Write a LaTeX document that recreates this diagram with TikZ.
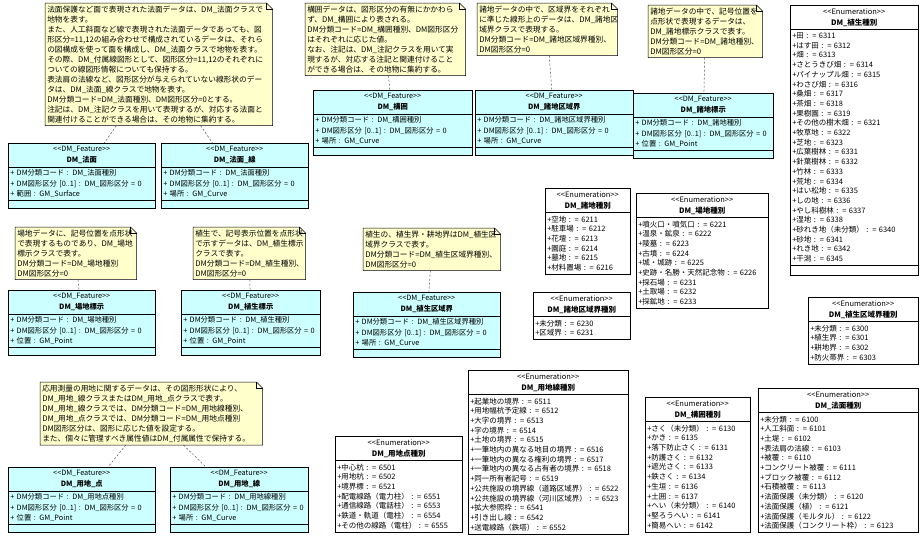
\documentclass[tikz,border=0pt]{standalone}
\usepackage{fontspec}
\setmainfont{Noto Sans CJK JP}
\usetikzlibrary{shapes.multipart}

\definecolor{notefill}{HTML}{FFFFCC}
\definecolor{classfill}{HTML}{CCFFFF}

% outline of a note with its folded corner
\newcommand{\notefold}[1]{%
  \draw (#1.south west) -- (#1.north west) -- ([xshift=-6pt]#1.north east)
    -- ([yshift=-6pt]#1.north east) -- (#1.south east) -- cycle;
  \draw ([xshift=-6pt]#1.north east) |- ([yshift=-6pt]#1.north east);}
% stereotype and name, centred
\newcommand{\classhead}[2]{\makebox[\linewidth]{<{}<#1>{}>}\\[1pt]\makebox[\linewidth]{\textbf{#2}}}

\begin{document}
\begin{tikzpicture}[x=1pt,y=-1pt,line width=0.5pt,
  umlnote/.style={anchor=north west,fill=notefill,inner xsep=2pt,inner ysep=2.5pt,
    align=left,text width=#1,font=\fontsize{7.7}{10}\selectfont,
    path picture={\fill[white] ([xshift=-6pt]path picture bounding box.north east)
      -- (path picture bounding box.north east)
      -- ([yshift=-6pt]path picture bounding box.north east) -- cycle;}},
  umlclass/.style={rectangle split,rectangle split parts=3,draw,fill=classfill,
    anchor=north west,inner xsep=2pt,inner ysep=2.5pt,align=left,text width=#1,
    font=\fontsize{7.3}{10.5}\selectfont},
  umlenum/.style={rectangle split,rectangle split parts=2,draw,fill=white,
    anchor=north west,inner xsep=2pt,inner ysep=3pt,align=left,text width=#1,
    font=\fontsize{7.5}{9.7}\selectfont},
  annot/.style={dash pattern=on 2pt off 2pt,gray!60!black}]
\useasboundingbox (0,0) rectangle (922,538);

% notes
\node[umlnote=223pt] (note1) at (45,3) {法面保護など面で表現された法面データは、DM\_法面クラスで\\
地物を表す。\\
また、人工斜面など線で表現された法面データであっても、図\\
形区分=11,12の組み合わせで構成されているデータは、それら\\
の図構成を使って面を構成し、DM\_法面クラスで地物を表す。\\
その際、DM\_付属線図形として、図形区分=11,12のそれぞれに\\
ついての線図形情報についても保持する。\\
表法肩の法線など、図形区分が与えられていない線形状のデー\\
タは、DM\_法面\_線クラスで地物を表す。\\
DM分類コード=DM\_法面種別、DM図形区分=0とする。\\
注記は、DM\_注記クラスを用いて表現するが、対応する法面と\\
関連付けることができる場合は、その地物に集約する。};
\notefold{note1}
\node[umlnote=156pt] (note2) at (305,3) {構囲データは、図形区分の有無にかかわら\\
ず、DM\_構囲により表される。\\
DM分類コード=DM\_構囲種別、DM図形区分\\
はそれぞれに応じた値。\\
なお、注記は、DM\_注記クラスを用いて実\\
現するが、対応する注記と関連付けること\\
ができる場合は、その地物に集約する。};
\notefold{note2}
\node[umlnote=136pt] (note3) at (477,3) {諸地データの中で、区域界をそれぞれ\\
に準じた線形上のデータは、DM\_諸地区\\
域界クラスで表現する。\\
DM分類コード=DM\_諸地区域界種別、\\
DM図形区分=0};
\notefold{note3}
\node[umlnote=110pt] (note4) at (648,5) {諸地データの中で、記号位置を\\
点形状で表現するデータは、\\
DM\_諸地標示クラスで表す。\\
DM分類コード=DM\_諸地種別、\\
DM図形区分=0};
\notefold{note4}
\node[umlnote=117pt] (note5) at (15,227) {場地データに、記号位置を点形状\\
で表現するものであり、DM\_場地\\
標示クラスで表す。\\
DM分類コード=DM\_場地種別\\
DM図形区分=0};
\notefold{note5}
\node[umlnote=108pt] (note6) at (193,227) {植生で、記号表示位置を点形状\\
で示すデータは、DM\_植生標示\\
クラスで表す。\\
DM分類コード=DM\_植生種別、\\
DM図形区分=0};
\notefold{note6}
\node[umlnote=133pt] (note7) at (363,228) {植生の、植生界・耕地界はDM\_植生区\\
域界クラスで表す。\\
DM分類コード=DM\_植生区域界種別、\\
DM図形区分=0};
\notefold{note7}
\node[umlnote=218pt] (note8) at (40,382) {応用測量の用地に関するデータは、その図形形状により、\\
DM\_用地\_線クラスまたはDM\_用地\_点クラスで表す。\\
DM\_用地\_線クラスでは、DM分類コード=DM\_用地線種別、\\
DM\_用地\_点クラスでは、DM分類コード=DM\_用地点種別\\
DM図形区分は、図形に応じた値を設定する。\\
また、個々に管理すべき属性値はDM\_付属属性で保持する。};
\notefold{note8}

% feature classes
\node[umlclass=143pt] (houmen) at (8,143) {\classhead{DM\_Feature}{DM\_法面}
  \nodepart{two}+ DM分類コード : DM\_法面種別\\\mbox{+ DM図形区分 [0..1] : DM\_図形区分 = 0}\\+ 範囲 : GM\_Surface
  \nodepart{three}\rule{0pt}{2pt}};
\node[umlclass=143pt] (houmensen) at (161,143) {\classhead{DM\_Feature}{DM\_法面\_線}
  \nodepart{two}+ DM分類コード : DM\_法面種別\\\mbox{+ DM図形区分 [0..1] : DM\_図形区分 = 0}\\+ 場所 : GM\_Curve
  \nodepart{three}\rule{0pt}{2pt}};
\node[umlclass=155pt] (koui) at (313,90) {\classhead{DM\_Feature}{DM\_構囲}
  \nodepart{two}+ DM分類コード : DM\_構囲種別\\\mbox{+ DM図形区分 [0..1] : DM\_図形区分 = 0}\\+ 場所 : GM\_Curve
  \nodepart{three}\rule{0pt}{2pt}};
\node[umlclass=154pt] (shochikuiki) at (475,90) {\classhead{DM\_Feature}{DM\_諸地区域界}
  \nodepart{two}+ DM分類コード : DM\_諸地区域界種別\\\mbox{+ DM図形区分 [0..1] : DM\_図形区分 = 0}\\+ 場所 : GM\_Curve
  \nodepart{three}\rule{0pt}{2pt}};
\node[umlclass=136pt] (shochihyouji) at (633,93) {\classhead{DM\_Feature}{DM\_諸地標示}
  \nodepart{two}+ DM分類コード : DM\_諸地種別\\\mbox{+ DM図形区分 [0..1] : DM\_図形区分 = 0}\\+ 位置 : GM\_Point
  \nodepart{three}\rule{0pt}{2pt}};
\node[umlclass=143pt] (jouchihyouji) at (8,290) {\classhead{DM\_Feature}{DM\_場地標示}
  \nodepart{two}+ DM分類コード : DM\_場地種別\\\mbox{+ DM図形区分 [0..1] : DM\_図形区分 = 0}\\+ 位置 : GM\_Point
  \nodepart{three}\rule{0pt}{2pt}};
\node[umlclass=135pt] (shokuhyouji) at (181,290) {\classhead{DM\_Feature}{DM\_植生標示}
  \nodepart{two}+ DM分類コード : DM\_植生種別\\\mbox{+ DM図形区分 [0..1] : DM\_図形区分 = 0}\\+ 位置 : GM\_Point
  \nodepart{three}\rule{0pt}{2pt}};
\node[umlclass=143pt] (shokukuiki) at (353,292) {\classhead{DM\_Feature}{DM\_植生区域界}
  \nodepart{two}+ DM分類コード : DM\_植生区域界種別\\\mbox{+ DM図形区分 [0..1] : DM\_図形区分 = 0}\\+ 場所 : GM\_Curve
  \nodepart{three}\rule{0pt}{2pt}};
\node[umlclass=143pt] (youchiten) at (8,467) {\classhead{DM\_Feature}{DM\_用地\_点}
  \nodepart{two}+ DM分類コード : DM\_用地点種別\\\mbox{+ DM図形区分 [0..1] : DM\_図形区分 = 0}\\+ 位置 : GM\_Point
  \nodepart{three}\rule{0pt}{2pt}};
\node[umlclass=134pt] (youchisen) at (170,467) {\classhead{DM\_Feature}{DM\_用地\_線}
  \nodepart{two}+ DM分類コード : DM\_用地線種別\\\mbox{+ DM図形区分 [0..1] : DM\_図形区分 = 0}\\+ 場所 : GM\_Curve
  \nodepart{three}\rule{0pt}{2pt}};

% enumerations
\node[umlenum=124pt,rectangle split parts=3] (eshokusei) at (790,5) {\classhead{Enumeration}{DM\_植生種別}
  \nodepart{two}+田 : = 6311\\+はす田 : = 6312\\+畑 : = 6313\\+さとうきび畑 : = 6314\\+パイナップル畑 : = 6315\\
  +わさび畑 : = 6316\\+桑畑 : = 6317\\+茶畑 : = 6318\\+果樹園 : = 6319\\+その他の樹木畑 : = 6321\\
  +牧草地 : = 6322\\+芝地 : = 6323\\+広葉樹林 : = 6331\\+針葉樹林 : = 6332\\+竹林 : = 6333\\
  +荒地 : = 6334\\+はい松地 : = 6335\\+しの地 : = 6336\\+やし科樹林 : = 6337\\+湿地 : = 6338\\
  +砂れき地（未分類） : = 6340\\+砂地 : = 6341\\+れき地 : = 6342\\+干潟 : = 6345
  \nodepart{three}\rule{0pt}{3pt}};
\node[umlenum=81pt] (eshochi) at (545,188) {\classhead{Enumeration}{DM\_諸地種別}
  \nodepart{two}+空地 : = 6211\\+駐車場 : = 6212\\+花壇 : = 6213\\+園庭 : = 6214\\+墓地 : = 6215\\+材料置場 : = 6216};
\node[umlenum=93pt] (eshochikuiki) at (533,292) {\classhead{Enumeration}{DM\_諸地区域界種別}
  \nodepart{two}+未分類 : = 6230\\+区域界 : = 6231};
\node[umlenum=128pt] (ejouchi) at (636,193) {\classhead{Enumeration}{DM\_場地種別}
  \nodepart{two}+噴火口・噴気口 : = 6221\\+温泉・鉱泉 : = 6222\\+陵墓 : = 6223\\+古墳 : = 6224\\+城・城跡 : = 6225\\
  +史跡・名勝・天然記念物 : = 6226\\+採石場 : = 6231\\+土取場 : = 6232\\+採鉱地 : = 6233};
\node[umlenum=106pt] (eshokukuiki) at (808,297) {\classhead{Enumeration}{DM\_植生区域界種別}
  \nodepart{two}+未分類 : = 6300\\+植生界 : = 6301\\+耕地界 : = 6302\\+防火帯界 : = 6303};
\node[umlenum=123pt] (eyouchiten) at (335,436) {\classhead{Enumeration}{DM\_用地点種別}
  \nodepart{two}+中心杭 : = 6501\\+用地杭 : = 6502\\+境界標 : = 6521\\+配電線路（電力柱） : = 6551\\
  +通信線路（電話柱） : = 6553\\+鉄道・軌道（電柱） : = 6554\\+その他の線路（電柱） : = 6555};
\node[umlenum=156pt] (eyouchisen) at (468,370) {\classhead{Enumeration}{DM\_用地線種別}
  \nodepart{two}+起業地の境界 : = 6511\\+用地幅杭予定線 : = 6512\\+大字の境界 : = 6513\\+字の境界 : = 6514\\
  +土地の境界 : = 6515\\+一筆地内の異なる地目の境界 : = 6516\\+一筆地内の異なる権利の境界 : = 6517\\
  +一筆地内の異なる占有者の境界 : = 6518\\+同一所有者記号 : = 6519\\
  \mbox{+公共施設の境界線（道路区域界） : = 6522}\\\mbox{+公共施設の境界線（河川区域界） : = 6523}\\
  +拡大参照枠 : = 6541\\+引き出し線 : = 6542\\+送電線路（鉄塔） : = 6552};
\node[umlenum=101pt] (ekoui) at (645,397) {\classhead{Enumeration}{DM\_構囲種別}
  \nodepart{two}+さく（未分類） : = 6130\\+かき : = 6135\\+落下防止さく : = 6131\\+防護さく : = 6132\\
  +遮光さく : = 6133\\+鉄さく : = 6134\\+生垣 : = 6136\\+土囲 : = 6137\\+へい（未分類） : = 6140\\
  +堅ろうへい : = 6141\\+簡易へい : = 6142};
\node[umlenum=156pt] (ehoumen) at (758,388) {\classhead{Enumeration}{DM\_法面種別}
  \nodepart{two}+未分類 : = 6100\\+人工斜面 : = 6101\\+土堤 : = 6102\\+表法肩の法線 : = 6103\\+被覆 : = 6110\\
  +コンクリート被覆 : = 6111\\+ブロック被覆 : = 6112\\+石積被覆 : = 6113\\+法面保護（未分類） : = 6120\\
  +法面保護（植） : = 6121\\+法面保護（モルタル） : = 6122\\+法面保護（コンクリート枠） : = 6123};

% note links
\draw[annot] (note1) -- (houmen);
\draw[annot] (note1) -- (houmensen);
\draw[annot] (note2) -- (koui);
\draw[annot] (note3) -- (shochikuiki);
\draw[annot] (note4) -- (shochihyouji);
\draw[annot] (note5) -- (jouchihyouji);
\draw[annot] (note6) -- (shokuhyouji);
\draw[annot] (note7) -- (shokukuiki);
\draw[annot] (note8) -- (youchiten);
\draw[annot] (note8) -- (youchisen);
\end{tikzpicture}
\end{document}
